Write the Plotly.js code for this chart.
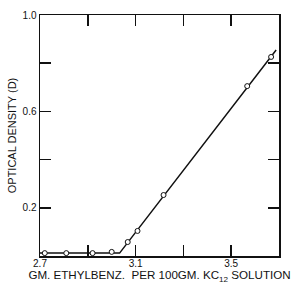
<!DOCTYPE html>
<html>
<head>
<meta charset="utf-8">
<script src="https://cdn.plot.ly/plotly-3.0.1.min.js"></script>
<style>html,body{margin:0;padding:0;background:#fff;}#chart{width:293px;height:285px;}</style>
</head>
<body>
<div id="chart"></div>
<script>
// measured points
const pointX = [2.72, 2.81, 2.92, 3.00, 3.067, 3.108, 3.217, 3.567, 3.667, 3.703];
const pointY = [0.012, 0.012, 0.012, 0.017, 0.058, 0.104, 0.253, 0.705, 0.826, 0.888];
// drawn fit line
const lineX = [2.7, 3.033, 3.688];
const lineY = [0.012, 0.012, 0.855];
// labelled ticks
const xTickVals = [2.7, 3.1, 3.5];
const xTickText = ['2.7', '3.1', '3.5'];
const yTickVals = [0.2, 0.6, 1.0];
const yTickText = ['0.2', '0.6', '1.0'];

const font = 'Liberation Sans, Arial, sans-serif';
const ink = '#111';
const axisCommon = {
  showgrid: false, zeroline: false, showline: true, linecolor: ink, linewidth: 1.5,
  mirror: 'ticks', ticks: 'inside', ticklen: 11, tickwidth: 1.5, tickcolor: ink,
  tickfont: {family: font, size: 10, color: ink}
};
const minorTicks = {ticks: 'inside', ticklen: 11, tickwidth: 1.5, tickcolor: ink, showgrid: false};
const traces = [
  {x: lineX, y: lineY, mode: 'lines', line: {color: ink, width: 1.5}, hoverinfo: 'skip'},
  {x: pointX, y: pointY, mode: 'markers', cliponaxis: false,
   marker: {symbol: 'circle', size: 5, color: '#fff', line: {color: ink, width: 1}}}
];
const layout = {
  width: 293, height: 285,
  margin: {l: 40, r: 14, t: 15, b: 29},
  paper_bgcolor: '#fff', plot_bgcolor: '#fff',
  showlegend: false,
  xaxis: Object.assign({}, axisCommon, {
    range: [2.7, 3.7], tickmode: 'array', tickvals: xTickVals, ticktext: xTickText,
    ticklabelstandoff: -3,
    minor: Object.assign({tickmode: 'linear', tick0: 2.9, dtick: 0.2}, minorTicks),
    title: {text: 'GM. ETHYLBENZ.&nbsp; PER 100GM. KC<sub>12</sub> SOLUTION', font: {family: font, size: 11.6, color: ink}, standoff: 0}
  }),
  yaxis: Object.assign({}, axisCommon, {
    range: [0, 1.0], tickmode: 'array', tickvals: yTickVals, ticktext: yTickText,
    minor: Object.assign({tickmode: 'linear', tick0: 0, dtick: 0.2}, minorTicks),
    title: {text: 'OPTICAL DENSITY (D)', font: {family: font, size: 11, color: ink}, standoff: 3}
  })
};
Plotly.newPlot('chart', traces, layout, {displayModeBar: false, staticPlot: true});
</script>
</body>
</html>
